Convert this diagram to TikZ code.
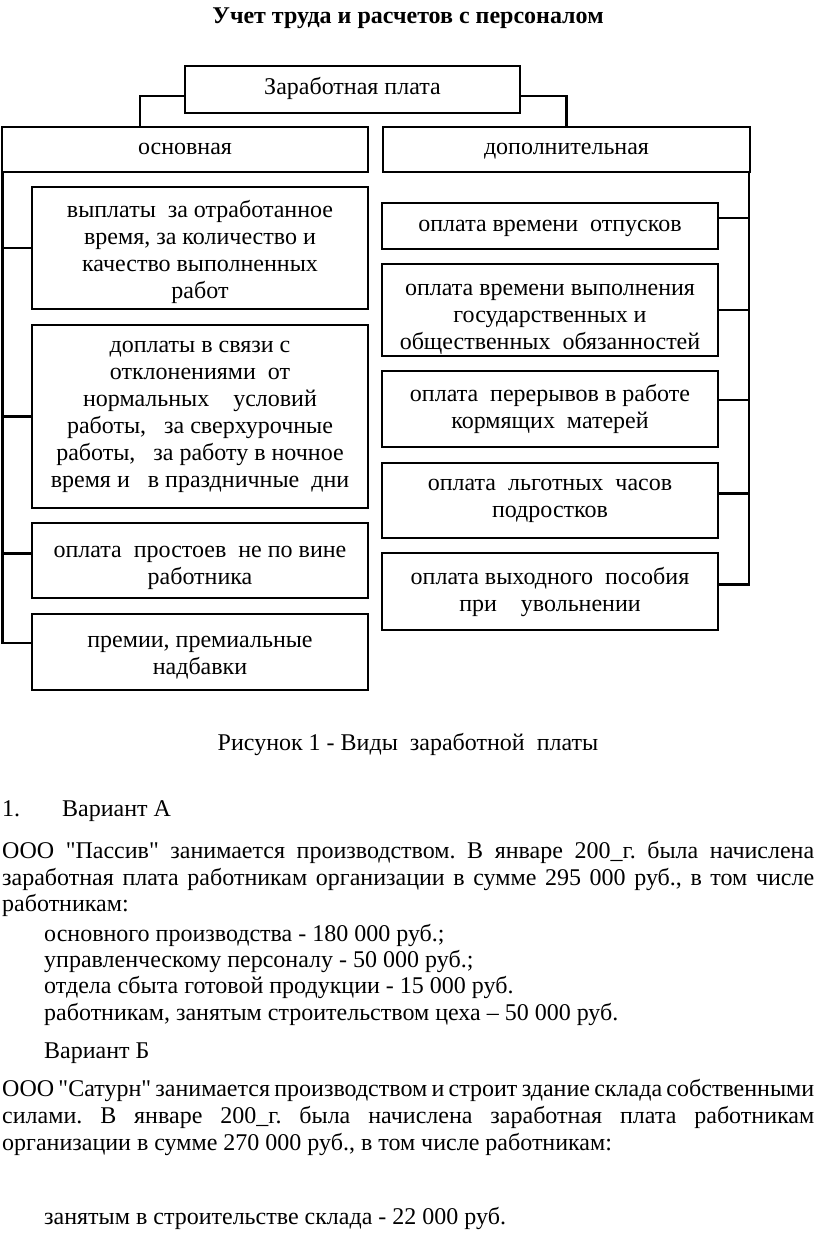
\documentclass[tikz,border=0pt]{standalone}
\usepackage{fontspec}
\setmainfont{Liberation Serif}[Ligatures=TeXOff]
\usetikzlibrary{positioning,calc}
\newcommand{\bodysize}{\fontsize{24}{27}\selectfont}
% strut that pushes the first line of a box down
\newcommand{\push}[1]{\rule{0pt}{#1}}
\frenchspacing

\begin{document}
\begin{tikzpicture}[x=1pt, y=-1pt,
    box/.style={draw, line width=2.4pt, inner sep=0pt, align=center, font=\bodysize},
    single/.style={text height=17pt, text depth=6pt},
    txt/.style={inner sep=0pt, text height=17pt, text depth=6pt, font=\bodysize},
    link/.style={line width=2.4pt}]
    \useasboundingbox (0,0) rectangle (816,1233);

    % Title
    \node[txt, font=\bodysize\bfseries] (title) at (408,18) {Учет труда и расчетов с персоналом};

    % Top levels
    \node[box, single, minimum width=335, minimum height=47] (top) at (352.5,89.5) {Заработная плата};
    \node[box, single, minimum width=366, minimum height=45] (osn) at (185,149.5) {основная};
    \node[box, single, minimum width=367, minimum height=45] (dop) at (566.5,149.5) {дополнительная};

    % Left column
    \node[box, minimum width=336, minimum height=122] (L1) at (200,248)
        {\push{25pt}выплаты~~за отработанное\\время, за количество и\\качество выполненных\\работ};
    \node[box, minimum width=336, minimum height=183] (L2) at (200,416.5)
        {доплаты в связи с\\отклонениями~~от\\нормальных~~~~условий\\работы,~~~за сверхурочные\\работы,~~~за работу в ночное\\время и~~~в праздничные~~дни};
    \node[box, minimum width=336, minimum height=75] (L3) at (200,560.5)
        {\push{27pt}оплата~~простоев~~не по вине\\работника};
    \node[box, minimum width=336, minimum height=76] (L4) at (200,652)
        {\push{23pt}премии, премиальные\\надбавки};

    % Right column
    \node[box, single, minimum width=336, minimum height=46] (R1) at (550,226) {оплата времени~~отпусков};
    \node[box, minimum width=336, minimum height=92] (R2) at (550,310)
        {\push{29pt}оплата времени выполнения\\государственных и\\общественных~~обязанностей};
    \node[box, minimum width=336, minimum height=76] (R3) at (550,409)
        {оплата~~перерывов в работе\\кормящих~~матерей};
    \node[box, minimum width=336, minimum height=75] (R4) at (550,500.5)
        {оплата~~льготных~~часов\\подростков};
    \node[box, minimum width=336, minimum height=77] (R5) at (550,591.5)
        {оплата выходного~~пособия\\при~~~~увольнении};

    % Connectors
    \draw[link] ([yshift=-6.5]top.west) -| ([xshift=-45]osn.north);
    \draw[link] ([yshift=-6.5]top.east) -| (dop.north);
    \coordinate (ltrunk) at ([xshift=1.5]osn.south west);
    \draw[link] (ltrunk) |- ([yshift=9]L4.west);
    \foreach \n/\d in {L1/0, L2/0, L3/7}
        \draw[link] ([yshift=\d]\n.west) -| (ltrunk);
    \coordinate (rtrunk) at ([xshift=-2]dop.south east);
    \draw[link] (rtrunk) |- ([yshift=7]R5.east);
    \foreach \n/\d in {R1/8, R2/0, R3/9, R4/7}
        \draw[link] ([yshift=\d]\n.east) -| (rtrunk);

    % Caption
    \node[txt] (caption) at (408,745) {Рисунок 1 - Виды~~заработной~~платы};

    % Variant A
    \node[txt, anchor=west] (numA) at (2,811) {1.};
    \node[txt, anchor=west] (varA) at (62,811) {Вариант А};
    \node[txt, anchor=west] (pA1) at (2,853)
        {\makebox[812pt][s]{ООО "Пассив" занимается производством. В январе 200\_г. была начислена}};
    \node[txt, anchor=west] (pA2) at (2,880)
        {\makebox[812pt][s]{заработная плата работникам организации в сумме 295 000 руб., в том числе}};
    \node[txt, anchor=west] (pA3) at (2,906) {работникам:};
    \foreach \y/\line in {936/{основного производства - 180 000 руб.;},
                          962/{управленческому персоналу - 50 000 руб.;},
                          988/{отдела сбыта готовой продукции - 15 000 руб.},
                          1015/{работникам, занятым строительством цеха – 50 000 руб.}}
        \node[txt, anchor=west] at (44,\y) {\line};

    % Variant B
    \node[txt, anchor=west] (varB) at (44,1053) {Вариант Б};
    \node[txt, anchor=west] (pB1) at (2,1091)
        {\makebox[812pt][s]{ООО "Сатурн" занимается производством и строит здание склада собственными}};
    \node[txt, anchor=west] (pB2) at (2,1118)
        {\makebox[812pt][s]{силами. В январе 200\_г. была начислена заработная плата работникам}};
    \node[txt, anchor=west] (pB3) at (2,1145) {организации в сумме 270 000 руб., в том числе работникам:};
    \node[txt, anchor=west] (pB4) at (44,1219) {занятым в строительстве склада - 22 000 руб.};
\end{tikzpicture}
\end{document}
